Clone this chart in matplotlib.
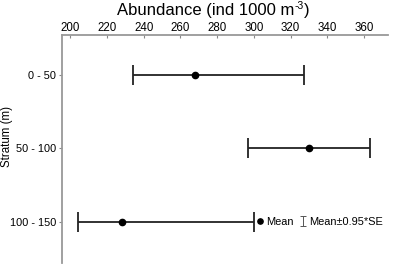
import matplotlib
matplotlib.use("Agg")
import matplotlib.pyplot as plt
import numpy as np
from matplotlib.lines import Line2D

plt.rcParams['font.family'] = ['Liberation Sans', 'DejaVu Sans']

strata = ["0 - 50", "50 - 100", "100 - 150"]
means = [268, 330, 228]
lower = [234, 297, 204]
upper = [327, 363, 300]
xticks = [200, 220, 240, 260, 280, 300, 320, 340, 360]

fig = plt.figure(figsize=(3.94, 2.74), dpi=100)
ax = fig.add_axes([62/394, 1 - 263/274, (388-62)/394, (263-35)/274])

ypos = list(range(len(strata)))
err_lo = [m - l for m, l in zip(means, lower)]
err_hi = [u - m for m, u in zip(means, upper)]
ax.errorbar(means, ypos, xerr=[err_lo, err_hi], fmt='o', color='black',
            ecolor='#222222', elinewidth=1.3, capsize=7.2, capthick=1.3,
            markersize=4.5)

ax.set_xlim(195.5, 373)
ax.set_ylim(2.56, -0.545)
ax.set_yticks(ypos)
ax.set_yticklabels(strata, fontsize=7.9)
ax.set_xticks(xticks)
ax.set_xticklabels([str(t) for t in xticks], fontsize=8.3)
ax.xaxis.tick_top()
ax.tick_params(axis='x', direction='in', length=2, color='#888888', pad=0.5)
ax.tick_params(axis='y', direction='out', length=2, color='#888888', pad=2)
for s in ['right', 'bottom']:
    ax.spines[s].set_visible(False)
for s in ['top', 'left']:
    ax.spines[s].set_color('#999999')
    ax.spines[s].set_linewidth(1.3)

# Title built from pieces so the superscript stays inside the canvas
fig.canvas.draw()
renderer = fig.canvas.get_renderer()
base_y = 1 - 15/274
t1 = fig.text(117/394, base_y, "Abundance (ind 1000 m", fontsize=12,
              ha='left', va='baseline')
w1 = t1.get_window_extent(renderer).x1
t2 = fig.text(w1 / fig.bbox.width + 0.5/394, 1 - 9/274, "-3", fontsize=7.5,
              ha='left', va='baseline')
w2 = t2.get_window_extent(renderer).x1
fig.text(w2 / fig.bbox.width, base_y, ")", fontsize=12, ha='left', va='baseline')

ax.set_ylabel("Stratum (m)", fontsize=8.3)
ax.yaxis.set_label_coords((7 - 62) / 326, (263 - 137) / 228)
ax.yaxis.label.set_va('center')

mean_h = Line2D([], [], marker='o', linestyle='none', color='black', markersize=3.8)
eb_h = ax.errorbar([np.nan], [np.nan], yerr=[1], fmt='none', ecolor='#555555',
                   elinewidth=0.7, capsize=2.5, capthick=0.7)
ax.legend([mean_h, eb_h], ["Mean", "Mean\u00b10.95*SE"], loc='center left',
          bbox_to_anchor=(257/394, 1 - 222/274), bbox_transform=fig.transFigure,
          frameon=False, ncol=2, fontsize=7.9, handlelength=0.55,
          handleheight=0.9, handletextpad=0.25, columnspacing=0.6,
          borderaxespad=0, borderpad=0)

fig.savefig("out.png", dpi=100)
